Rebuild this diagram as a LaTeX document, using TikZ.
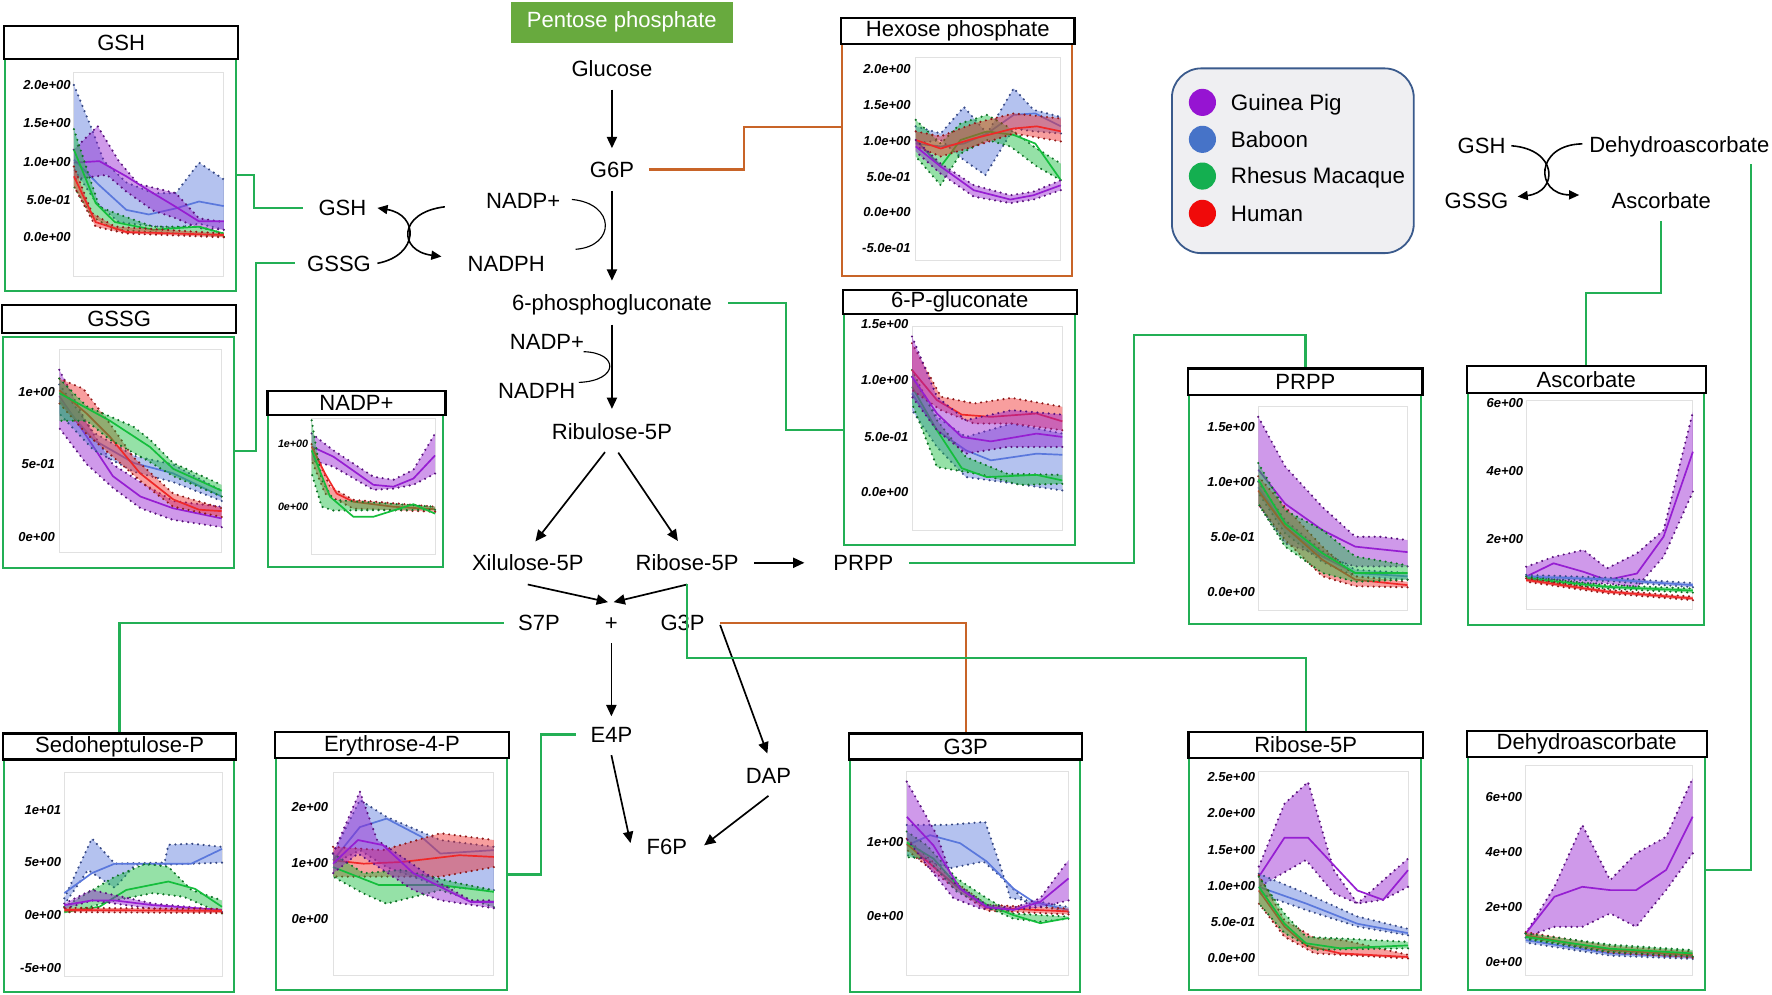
\documentclass[tikz,border=0pt]{standalone}
\usepackage{fontspec}
\setmainfont{Liberation Sans}
\usetikzlibrary{arrows.meta,calc}
\definecolor{cgp}{RGB}{150,30,210}
\definecolor{cbb}{RGB}{90,120,220}
\definecolor{crm}{RGB}{20,190,60}
\definecolor{chu}{RGB}{240,40,40}
\definecolor{lgreen}{RGB}{35,175,85}
\definecolor{lorange}{RGB}{200,100,40}
\definecolor{pbox}{RGB}{104,170,62}
\definecolor{legfill}{RGB}{239,239,242}
\definecolor{legline}{RGB}{58,90,140}
\definecolor{pgrid}{RGB}{225,225,225}
\definecolor{lgp}{RGB}{150,20,210}
\definecolor{lbb}{RGB}{70,115,200}
\definecolor{lrm}{RGB}{20,175,80}
\definecolor{lhu}{RGB}{240,10,10}
\newcommand\fA{\fontsize{19.5pt}{22pt}\selectfont}
\newcommand\fL{\fontsize{19.8pt}{22pt}\selectfont}
\newcommand\fT{\fontsize{11.5pt}{13pt}\selectfont\bfseries\itshape}
\newcommand\fS{\fontsize{9.5pt}{11pt}\selectfont\bfseries\itshape}
\tikzset{
 lbl/.style={font=\fA, inner sep=1pt, text height=16pt, text depth=2pt},
 arr/.style={line width=1.5pt, -{Triangle[length=10pt,width=9pt]}},
 carr/.style={line width=1.4pt, -{Triangle[length=9pt,width=8pt]}},
 cthin/.style={line width=1pt},
 gline/.style={draw=lgreen, line width=2pt},
 oline/.style={draw=lorange, line width=2pt},
 cbox/.style={draw=#1, line width=1.8pt, fill=white, inner sep=0pt},
 tbox/.style={draw=black, line width=2pt, fill=white, inner sep=0pt, font=\fA},
 parea/.style={draw=pgrid, line width=0.8pt, fill=white},
 tick/.style={anchor=east, inner sep=0pt, font=\fT},
 stick/.style={anchor=east, inner sep=0pt, font=\fS},
 bdots/.style={draw=#1!60!black, line width=2.1pt, line cap=round, dash pattern=on 0pt off 5pt},
 legdot/.style={circle, fill=#1, minimum size=24pt, inner sep=0pt},
 legtxt/.style={anchor=west, font=\fL, inner sep=1pt, text height=16pt, text depth=2pt},
}
\newcommand\bnd[4]{%
 \fill[#1,fill opacity=0.45] plot coordinates {#2} -- plot coordinates {#3} -- cycle;
 \draw[bdots=#1] plot coordinates {#2};
 \draw[bdots=#1] plot coordinates {#3};
 \draw[#1,line width=1.5pt,line join=round] plot coordinates {#4};}
% #1 name #2 colour #3 x1 #4 y1 #5 x2 #6 y2 #7 title top #8 title bottom #9 title
\newcommand\pnl[9]{%
 \node[cbox=#2, minimum width={(#5)-(#3)}, minimum height={(#6)-(#4)}] (#1C) at ({((#3)+(#5))/2},{((#4)+(#6))/2}) {};
 \node[tbox, minimum width={(#5)-(#3)+2.5}, minimum height={(#8)-(#7)}] (#1T) at ({((#3)+(#5))/2+0.5},{((#7)+(#8))/2}) {#9};
}
\begin{document}
\begin{tikzpicture}[x=1pt,y=-1pt]
\useasboundingbox (0,0) rectangle (1568,879.6);
\fill[white] (0,0) rectangle (1568,879.6);

% ---------------- panels ----------------
\pnl{gsh}{lgreen}{4.4}{52.5}{209}{257.5}{23}{52.5}{GSH}
\pnl{gssg}{lgreen}{2.4}{298}{207.4}{502.4}{270}{294.4}{GSSG}
\pnl{nadp}{lgreen}{237.5}{367.3}{392.4}{502}{345.7}{367.3}{NADP+}
\pnl{hex}{lorange}{745}{39.2}{949}{244.3}{16.2}{39.2}{Hexose phosphate}
\pnl{pgl}{lgreen}{746.5}{277.9}{951}{482.3}{256.7}{277.9}{6-P-gluconate}
\pnl{prpp}{lgreen}{1052.2}{349.6}{1257}{552.5}{326}{349.6}{PRPP}
\pnl{asc}{lgreen}{1298.6}{347.5}{1507.5}{553}{323.9}{347.5}{Ascorbate}
\pnl{sed}{lgreen}{3.4}{672}{207.3}{877.6}{649}{672}{Sedoheptulose-P}
\pnl{ery}{lgreen}{243.9}{671}{448.8}{876}{648}{671}{Erythrose-4-P}
\pnl{gtp}{lgreen}{752.2}{672}{955.8}{877.6}{649}{672}{G3P}
\pnl{rib}{lgreen}{1052.4}{671}{1257.4}{876}{647.5}{671}{Ribose-5P}
\pnl{dha}{lgreen}{1298.6}{670}{1508.4}{876}{646.6}{670}{Dehydroascorbate}

% plot areas
\draw[parea] (65.4,64.3) rectangle (198,244.3);
\draw[parea] (52.5,309) rectangle (196.2,488.8);
\draw[parea] (275.8,370) rectangle (385,491);
\draw[parea] (810.3,50.7) rectangle (938.7,230.7);
\draw[parea] (807,288.5) rectangle (940,469);
\draw[parea] (1113.4,360) rectangle (1245.5,539.9);
\draw[parea] (1350.5,354) rectangle (1498,539.3);
\draw[parea] (56.9,683.8) rectangle (196.4,863.8);
\draw[parea] (294.7,683.8) rectangle (437,862.9);
\draw[parea] (802.4,683) rectangle (945.5,863.5);
\draw[parea] (1113.9,683) rectangle (1245.9,862.9);
\draw[parea] (1350,677) rectangle (1497.8,862.9);

% ticks
\foreach \t/\yy [count=\i] in {2.0e+00/75.2,1.5e+00/109,1.0e+00/143,5.0e-01/177,0.0e+00/210}
  \node[tick] (ta\i) at (62.7,\yy) {\t};
\foreach \t/\yy [count=\i] in {1e+00/346.6,5e-01/411,0e+00/475.5}
  \node[tick] (tb\i) at (48.7,\yy) {\t};
\foreach \t/\yy [count=\i] in {1e+00/393,0e+00/448.4}
  \node[stick] (tc\i) at (272.9,\yy) {\t};
\foreach \t/\yy [count=\i] in {2.0e+00/61,1.5e+00/93,1.0e+00/124.5,5.0e-01/156.4,0.0e+00/188,-5.0e-01/219.8}
  \node[tick] (td\i) at (806,\yy) {\t};
\foreach \t/\yy [count=\i] in {1.5e+00/287,1.0e+00/336.3,5.0e-01/386.5,0.0e+00/435}
  \node[tick] (te\i) at (804,\yy) {\t};
\foreach \t/\yy [count=\i] in {1.5e+00/377.6,1.0e+00/426.3,5.0e-01/475,0.0e+00/523.6}
  \node[tick] (tf\i) at (1110.5,\yy) {\t};
\foreach \t/\yy [count=\i] in {6e+00/356.4,4e+00/416.5,2e+00/477.3}
  \node[tick] (tg\i) at (1348,\yy) {\t};
\foreach \t/\yy [count=\i] in {1e+01/716.9,5e+00/763.2,0e+00/809.8,-5e+00/856.4}
  \node[tick] (th\i) at (54.2,\yy) {\t};
\foreach \t/\yy [count=\i] in {2e+00/713.9,1e+00/764,0e+00/813.6}
  \node[tick] (ti\i) at (290.6,\yy) {\t};
\foreach \t/\yy [count=\i] in {1e+00/745.5,0e+00/810.4}
  \node[tick] (tj\i) at (799.5,\yy) {\t};
\foreach \t/\yy [count=\i] in {2.5e+00/688,2.0e+00/719.8,1.5e+00/752.3,1.0e+00/784.1,5.0e-01/816.3,0.0e+00/848.1}
  \node[tick] (tk\i) at (1110.7,\yy) {\t};
\foreach \t/\yy [count=\i] in {6e+00/705,4e+00/753.7,2e+00/802.4,0e+00/851.7}
  \node[tick] (tl\i) at (1347,\yy) {\t};

% ---------------- curves ----------------
% GSH
\begin{scope}[shift={(65.4,210)},x=13.26pt,y=67.4pt]
\bnd{cbb}{(0,2.0)(1.2,1.42)(2,1.0)(3.5,0.72)(5.3,0.58)(6.8,0.58)(8.35,0.98)(10,0.76)}{(10,0.1)(8.35,0.18)(6.8,0.12)(5,0.15)(3,0.2)(1.5,0.45)(0,0.9)}{(0,1.02)(1.66,0.69)(3.5,0.36)(5,0.3)(6.8,0.38)(8.35,0.47)(10,0.41)}
\bnd{cgp}{(0,1.15)(1.58,1.46)(3.0,1.0)(4.3,0.7)(6.8,0.58)(8.34,0.25)(10,0.2)}{(10,0.1)(8.34,0.12)(6.8,0.25)(5.3,0.35)(3.5,0.6)(2.2,0.82)(0,0.76)}{(0,0.98)(1.7,1.0)(3.5,0.8)(5.28,0.58)(6.8,0.4)(8.34,0.21)(10,0.21)}
\bnd{crm}{(0,1.42)(0.94,0.85)(1.7,0.4)(2.73,0.32)(5.28,0.14)(8.34,0.14)(10,0.05)}{(10,0.01)(2.73,0.1)(1.2,0.27)(0,0.67)}{(0,1.15)(1.45,0.45)(2.73,0.2)(5.28,0.1)(8.34,0.14)(10,0.05)}
\bnd{chu}{(0,0.93)(1.2,0.32)(2.73,0.14)(10,0.05)}{(10,0)(3.5,0.05)(1.45,0.14)(0,0.67)}{(0,0.8)(1.45,0.2)(3.5,0.07)(10,0.03)}
\end{scope}
% GSSG
\begin{scope}[shift={(52.5,475.5)},x=14.37pt,y=128.9pt]
\bnd{cgp}{(0,1.15)(1.7,0.78)(3.3,0.5)(5,0.38)(7,0.25)(10,0.21)}{(10,0.07)(7,0.12)(5,0.2)(3.3,0.34)(1.7,0.5)(0,0.75)}{(0,0.97)(1.7,0.69)(3.3,0.42)(5,0.28)(7,0.2)(10,0.13)}
\bnd{cbb}{(0,1.05)(2.1,0.72)(4.6,0.56)(7,0.5)(10,0.32)}{(10,0.25)(7,0.38)(4.6,0.45)(2.1,0.6)(0,0.85)}{(0,0.94)(2.1,0.67)(4.6,0.51)(7,0.44)(10,0.28)}
\bnd{chu}{(0,1.09)(1.48,1.02)(3.12,0.78)(4.56,0.55)(7.02,0.3)(10,0.2)}{(10,0.14)(7.02,0.21)(5.38,0.35)(3.33,0.55)(1.68,0.71)(0,0.92)}{(0,1.01)(1.68,0.85)(3.12,0.69)(4.97,0.44)(7.02,0.26)(8.6,0.19)(10,0.18)}
\bnd{crm}{(0,1.09)(1.68,0.9)(4.56,0.76)(5.59,0.67)(7.02,0.51)(10,0.36)}{(10,0.28)(7.02,0.42)(5.38,0.53)(3.12,0.67)(1.68,0.8)(0,0.8)}{(0,0.99)(3.12,0.8)(5.59,0.62)(7.02,0.47)(10,0.32)}
\end{scope}
% NADP+
\begin{scope}[shift={(275.8,448.4)},x=10.92pt,y=55.4pt]
\bnd{cgp}{(0,1.17)(1.76,0.9)(5,0.48)(6.62,0.43)(8.24,0.59)(10,1.17)}{(10,0.53)(8.24,0.35)(6.62,0.29)(5,0.27)(1.76,0.64)(0,0.74)}{(0,0.96)(1.76,0.8)(5,0.35)(6.62,0.32)(8.24,0.45)(10,0.82)}
\bnd{chu}{(0,1.0)(1.49,0.32)(3.38,0.11)(10,0.0)}{(10,-0.08)(3.38,-0.03)(1.08,0.21)(0,0.74)}{(0,0.96)(1.08,0.53)(2.03,0.21)(3.38,0.08)(6.62,0)(10,-0.04)}
\bnd{crm}{(0,1.38)(0.81,0.43)(1.76,0.11)(10,0.0)}{(10,-0.05)(1.76,-0.06)(0.81,0)(0,0.53)}{(0,0.9)(1.49,0.16)(3.38,-0.16)(5,-0.16)(8.24,0.04)(10,-0.11)}
\end{scope}
% Hexose phosphate
\begin{scope}[shift={(810.3,188)},x=12.84pt,y=63.5pt]
\bnd{cbb}{(0,1.2)(1.72,1.1)(3.32,1.47)(4.92,1.1)(6.75,1.73)(8.12,1.43)(10,1.33)}{(10,1.1)(8.12,1.13)(6.75,1.17)(4.8,0.52)(3.32,0.73)(1.72,1.01)(0,0.96)}{(0,0.96)(1.72,0.92)(3.32,0.96)(4.92,1.1)(6.75,1.36)(8.24,1.38)(10,1.2)}
\bnd{crm}{(0,1.29)(1.72,0.96)(3.09,1.24)(4.92,1.36)(6.29,1.2)(8.12,0.92)(10,0.68)}{(10,0.45)(8.35,0.64)(6.52,0.92)(4.92,1.01)(3.09,0.82)(1.72,0.38)(0,0.78)}{(0,1.01)(1.72,0.64)(3.09,1.01)(4.92,1.13)(6.75,1.08)(8.24,0.96)(10,0.45)}
\bnd{chu}{(0,1.13)(1.72,1.06)(4.0,1.24)(6.75,1.38)(10,1.31)}{(10,0.99)(6.75,1.1)(4.0,0.92)(1.72,0.78)(0,0.92)}{(0,1.01)(1.72,0.89)(4.0,1.03)(6.75,1.17)(8.35,1.2)(10,1.13)}
\bnd{cgp}{(0,1.01)(1.72,0.68)(4.0,0.38)(6.52,0.24)(8.12,0.29)(10,0.45)}{(10,0.31)(8.12,0.18)(6.52,0.13)(4.0,0.22)(1.72,0.54)(0,0.85)}{(0,0.92)(1.72,0.64)(4.0,0.31)(6.52,0.18)(8.12,0.24)(10,0.38)}
\end{scope}
% 6-P-gluconate
\begin{scope}[shift={(807,435)},x=13.3pt,y=98.7pt]
\bnd{cbb}{(0,1.03)(1.66,0.67)(3.59,0.49)(6.63,0.61)(10,0.52)}{(10,0.01)(6.9,0.07)(3.59,0.13)(1.66,0.4)(0,0.73)}{(0,0.88)(1.66,0.55)(3.59,0.37)(5.25,0.28)(8.29,0.34)(10,0.33)}
\bnd{crm}{(0,1.09)(1.66,0.64)(3.59,0.31)(6.35,0.16)(10,0.15)}{(10,0.07)(7.18,0.06)(4.7,0.15)(1.66,0.22)(0,0.79)}{(0,0.94)(1.66,0.55)(3.31,0.21)(4.97,0.13)(8.29,0.15)(10,0.1)}
\bnd{chu}{(0,1.33)(1.93,0.85)(4.14,0.79)(6.63,0.84)(10,0.76)}{(10,0.55)(6.63,0.61)(4.14,0.61)(1.93,0.73)(0,0.91)}{(0,1.09)(1.66,0.82)(3.31,0.69)(5.25,0.67)(8.29,0.7)(10,0.63)}
\bnd{cgp}{(0,1.39)(1.66,0.85)(3.59,0.64)(6.63,0.73)(10,0.69)}{(10,0.4)(6.35,0.4)(3.59,0.34)(1.66,0.55)(0,0.85)}{(0,1.03)(1.66,0.7)(3.31,0.49)(5.25,0.45)(8.29,0.52)(10,0.49)}
\end{scope}
% PRPP
\begin{scope}[shift={(1113.4,523.6)},x=13.21pt,y=97.3pt]
\bnd{cgp}{(0,1.59)(1.8,1.14)(4.3,0.77)(6.5,0.5)(8.2,0.5)(10,0.47)}{(10,0.23)(6.5,0.23)(4.3,0.32)(1.8,0.44)(0,0.8)}{(0,1.11)(1.8,0.8)(4.3,0.56)(6.5,0.41)(10,0.36)}
\bnd{cbb}{(0,1.0)(1.8,0.65)(4.3,0.37)(6.5,0.2)(10,0.17)}{(10,0.11)(6.5,0.14)(4.3,0.27)(1.8,0.53)(0,0.9)}{(0,0.95)(1.8,0.59)(4.3,0.32)(6.5,0.17)(10,0.14)}
\bnd{chu}{(0,1.05)(1.8,0.77)(4.3,0.41)(6.5,0.14)(10,0.09)}{(10,0.04)(6.5,0.05)(4.3,0.14)(1.8,0.47)(0,0.8)}{(0,0.92)(1.8,0.59)(4.3,0.29)(6.5,0.11)(10,0.06)}
\bnd{crm}{(0,1.17)(1.8,0.74)(4.3,0.56)(6.5,0.32)(10,0.24)}{(10,0.11)(6.5,0.09)(4.3,0.17)(1.8,0.41)(0,0.8)}{(0,1.02)(1.8,0.62)(4.3,0.35)(6.5,0.17)(10,0.17)}
\end{scope}
% Ascorbate
\begin{scope}[shift={(1350.5,537.7)},x=14.75pt,y=30.2pt]
\bnd{cgp}{(0,1.2)(1.64,1.49)(3.44,1.69)(4.84,1.15)(6.64,1.59)(8.24,2.27)(10,5.74)}{(10,3.4)(8.24,1.49)(6.64,0.61)(4.84,0.71)(3.44,0.71)(1.64,0.81)(0,0.81)}{(0,0.91)(1.64,1.3)(3.44,1.05)(4.84,0.81)(6.64,1.0)(8.24,2.08)(10,4.57)}
\bnd{cbb}{(0,0.96)(4.84,0.88)(10,0.72)}{(10,0.6)(4.84,0.78)(0,0.86)}{(0,0.91)(4.84,0.83)(10,0.66)}
\bnd{crm}{(0,0.91)(4.84,0.66)(10,0.56)}{(10,0.44)(4.84,0.56)(0,0.81)}{(0,0.86)(4.84,0.61)(10,0.5)}
\bnd{chu}{(0,0.86)(4.84,0.52)(10,0.32)}{(10,0.22)(4.84,0.42)(0,0.76)}{(0,0.81)(4.84,0.47)(10,0.27)}
\end{scope}
% Sedoheptulose-P
\begin{scope}[shift={(56.9,809.8)},x=13.95pt,y=9.3pt]
\bnd{cbb}{(0,1.6)(1.75,7.3)(3.2,4.9)(6.36,5.0)(6.6,6.7)(8.06,6.8)(10,6.5)}{(10,5.0)(6.36,4.8)(4.5,4.8)(3.2,2.6)(1.5,4.3)(0,1.0)}{(0,2.1)(1.75,4.0)(3.2,4.9)(5.63,4.9)(8.06,4.9)(10,6.3)}
\bnd{crm}{(0,0.8)(3.2,3.65)(5.15,4.9)(6.6,4.6)(8.06,2.4)(10,1.4)}{(10,0.16)(7.57,1.75)(5.63,2.1)(3.2,1.4)(0,0.16)}{(0,0.3)(2.23,0.8)(3.93,2.4)(6.6,3.2)(8.3,2.5)(10,0.8)}
\bnd{cgp}{(0,1.1)(1.75,2.4)(3.2,1.9)(5.63,1.1)(10,0.5)}{(10,0.3)(5.63,0.6)(1.75,1.4)(0,0.6)}{(0,0.95)(1.75,1.4)(3.2,1.4)(5.63,0.95)(10,0.5)}
\bnd{chu}{(0,0.7)(10,0.6)}{(10,0.2)(0,0.3)}{(0,0.5)(10,0.4)}
\end{scope}
% Erythrose-4-P
\begin{scope}[shift={(294.7,813.6)},x=14.23pt,y=49.85pt]
\bnd{cbb}{(0,1.17)(1.67,2.12)(3.33,1.82)(6.67,1.41)(10,1.29)}{(10,0.52)(6.67,0.58)(3.33,0.93)(1.67,1.23)(0,0.99)}{(0,1.05)(1.67,1.64)(3.33,1.79)(5.48,1.47)(6.67,1.17)(10,1.23)}
\bnd{chu}{(0,1.29)(3.1,1.23)(6.67,1.53)(10,1.41)}{(10,0.93)(6.67,0.76)(3.1,0.76)(0,0.76)}{(0,1.05)(1.9,0.99)(4.29,1.02)(7.86,1.14)(10,1.11)}
\bnd{crm}{(0,1.17)(1.9,0.82)(4.29,0.88)(7.86,0.64)(10,0.52)}{(10,0.22)(6.67,0.52)(3.33,0.28)(1.9,0.46)(0,0.76)}{(0,0.93)(2.86,0.61)(6.67,0.61)(10,0.49)}
\bnd{cgp}{(0,1.17)(1.67,2.27)(2.74,1.41)(4.29,1.11)(6.67,0.64)(8.57,0.34)(10,0.34)}{(10,0.2)(6.67,0.34)(5,0.52)(3.1,0.88)(1.55,1.17)(0,0.82)}{(0,0.99)(1.55,1.41)(3.1,1.32)(5,0.82)(6.67,0.58)(8.57,0.31)(10,0.31)}
\end{scope}
% G3P
\begin{scope}[shift={(802.4,810.4)},x=14.31pt,y=64.9pt]
\bnd{cbb}{(0,1.24)(2.47,1.24)(4.85,1.28)(5.77,0.69)(6.4,0.24)(8.25,0.19)(10,0.12)}{(10,0.05)(7.42,0.17)(6.19,0.46)(4.74,0.74)(2.68,0.65)(0,0.83)}{(0,0.96)(1.44,1.1)(3.3,0.99)(4.95,0.74)(6.6,0.37)(7.84,0.19)(10,0.08)}
\bnd{chu}{(0,1.05)(3.09,0.45)(4.95,0.15)(10,0.1)}{(10,0.02)(4.95,0.07)(3.09,0.35)(0,0.9)}{(0,0.98)(3.09,0.4)(4.95,0.11)(10,0.06)}
\bnd{crm}{(0,1.15)(1.24,0.96)(3.09,0.51)(4.95,0.24)(6.6,0.03)(10,-0.01)}{(10,-0.04)(8.25,-0.08)(6.6,-0.04)(4.95,0.12)(3.09,0.33)(1.24,0.78)(0,0.8)}{(0,1.0)(1.65,0.78)(3.3,0.37)(4.95,0.15)(6.6,0.01)(8.25,-0.1)(10,-0.03)}
\bnd{cgp}{(0,1.83)(1.86,1.1)(2.89,0.46)(4.95,0.15)(6.6,0.11)(8.25,0.24)(10,0.76)}{(10,0.21)(8.25,0.12)(6.6,0.08)(4.54,0.1)(2.89,0.24)(1.24,0.69)(0,1.05)}{(0,1.35)(1.65,0.96)(3.3,0.37)(4.95,0.12)(6.6,0.08)(8.25,0.19)(10,0.51)}
\end{scope}
% Ribose-5P
\begin{scope}[shift={(1113.9,848.1)},x=13.2pt,y=64pt]
\bnd{cgp}{(0,1.27)(1.72,2.14)(3.3,2.44)(5.03,1.22)(6.61,0.76)(8.33,1.08)(10,1.38)}{(10,0.99)(8.33,0.81)(6.61,0.76)(5.03,0.9)(3.16,1.36)(0,0.99)}{(0,1.13)(1.72,1.67)(3.3,1.67)(6.61,0.94)(8.33,0.81)(10,1.22)}
\bnd{cbb}{(0,1.17)(3.16,0.9)(6.61,0.58)(10,0.41)}{(10,0.32)(6.61,0.44)(3.16,0.67)(0,0.9)}{(0,0.99)(3.16,0.76)(6.61,0.48)(10,0.35)}
\bnd{chu}{(0,1.15)(1.72,0.53)(3.74,0.28)(5.75,0.25)(10,0.05)}{(10,0)(3.74,0.07)(1.72,0.3)(0,0.76)}{(0,0.94)(1.72,0.44)(3.16,0.18)(5.46,0.07)(10,0.02)}
\bnd{crm}{(0,1.13)(1.72,0.62)(3.16,0.3)(10,0.23)}{(10,0.14)(3.74,0.12)(1.72,0.35)(0,0.76)}{(0,0.99)(1.72,0.48)(3.16,0.21)(5.46,0.14)(10,0.18)}
\end{scope}
% Dehydroascorbate
\begin{scope}[shift={(1350,851.7)},x=14.78pt,y=24.45pt]
\bnd{cgp}{(0,1.05)(1.72,2.74)(3.39,4.98)(5.06,2.98)(6.61,3.95)(8.41,4.55)(10,6.67)}{(10,3.95)(8.41,2.62)(6.61,1.29)(5.06,1.78)(3.39,1.29)(1.72,1.29)(0,0.93)}{(0,1.05)(1.72,2.38)(3.39,2.74)(5.06,2.62)(6.61,2.62)(8.41,3.35)(10,5.28)}
\bnd{cbb}{(0,0.9)(5.06,0.42)(10,0.28)}{(10,0.13)(5.06,0.25)(0,0.72)}{(0,0.81)(5.06,0.33)(10,0.2)}
\bnd{chu}{(0,1.1)(5.06,0.6)(10,0.4)}{(10,0.17)(5.06,0.35)(0,0.9)}{(0,0.99)(5.06,0.45)(10,0.27)}
\bnd{crm}{(0,1.05)(5.06,0.65)(10,0.45)}{(10,0.22)(5.06,0.38)(0,0.85)}{(0,0.93)(5.06,0.5)(10,0.33)}
\end{scope}

% ---------------- title (green box) ----------------
\node[fill=pbox, text=white, font=\fA, minimum width=196.4pt, minimum height=36.3pt, inner sep=0pt] (ppbox) at (550.2,19.65) {Pentose phosphate};

% ---------------- legend ----------------
\node[draw=legline, line width=1.6pt, fill=legfill, rounded corners=26pt, minimum width=214pt, minimum height=163.5pt, inner sep=0pt] (leg) at (1144,142.25) {};
\node[legdot=lgp] (ld1) at (1064,90.6) {};
\node[legdot=lbb] (ld2) at (1064,123.3) {};
\node[legdot=lrm] (ld3) at (1064,155.8) {};
\node[legdot=lhu] (ld4) at (1064,188.8) {};
\node[legtxt] (lt1) at (1088,90.6) {Guinea Pig};
\node[legtxt] (lt2) at (1088,123.3) {Baboon};
\node[legtxt] (lt3) at (1088,155.8) {Rhesus Macaque};
\node[legtxt] (lt4) at (1088,188.8) {Human};

% ---------------- pathway labels ----------------
\node[lbl] (glu) at (541.5,61) {Glucose};
\node[lbl] (g6pL) at (541.5,150) {G6P};
\node[lbl] (nadp1) at (463,177.5) {NADP+};
\node[lbl] (nadph1) at (448,233) {NADPH};
\node[lbl] (pg6L) at (541.5,268) {6-phosphogluconate};
\node[lbl] (nadp2) at (484,302) {NADP+};
\node[lbl] (nadph2) at (475,346) {NADPH};
\node[lbl] (ribu) at (541.5,382) {Ribulose-5P};
\node[lbl] (xil) at (467,498) {Xilulose-5P};
\node[lbl] (ribL) at (608,498) {Ribose-5P};
\node[lbl] (prppL) at (764,498) {PRPP};
\node[lbl] (s7pL) at (477,551) {S7P};
\node[lbl] (plus) at (541,551) {+};
\node[lbl] (g3pL) at (604,551) {G3P};
\node[lbl] (e4pL) at (541,650) {E4P};
\node[lbl] (dap) at (680,686) {DAP};
\node[lbl] (f6p) at (590,749) {F6P};
\node[lbl] (gshL) at (303,184) {GSH};
\node[lbl] (gssgL) at (300,233) {GSSG};
\node[lbl] (gshR) at (1311,129) {GSH};
\node[lbl] (gssgR) at (1306.5,177.6) {GSSG};
\node[lbl] (dhaL) at (1486,128.3) {Dehydroascorbate};
\node[lbl] (ascL) at (1470,177.6) {Ascorbate};

% ---------------- pathway arrows ----------------
\draw[arr, shorten <=8pt, shorten >=8.7pt] (glu.south) -- (g6pL.north);
\draw[arr, shorten <=8.7pt, shorten >=9.5pt] (g6pL.south) -- (pg6L.north);
\draw[arr, shorten <=9pt, shorten >=10pt] (pg6L.south) -- (ribu.north);
\draw[arr, shorten <=10pt, shorten >=11pt] (ribu.south) -- (xil.north);
\draw[arr, shorten <=10pt, shorten >=11pt] (ribu.south) -- ([xshift=-2pt]ribL.north);
\draw[arr, shorten <=12.5pt, shorten >=24.5pt] (ribL.east) -- (prppL.west);
\draw[arr] ([yshift=-9pt]xil.south) -- ([shift={(-3pt,8pt)}]plus.north);
\draw[arr] ([yshift=-9pt]ribL.south) -- ([shift={(2pt,8pt)}]plus.north);
\draw[arr, shorten <=8pt, shorten >=6pt] (plus.south) -- (e4pL.north);
\draw[arr] ([shift={(12.5pt,-2pt)}]g3pL.east) -- ([shift={(-1pt,9pt)}]dap.north);
\draw[arr] ([yshift=-8pt]e4pL.south) -- ([shift={(-13pt,3pt)}]f6p.west);
\draw[arr] ([yshift=-8pt]dap.south) -- ([shift={(14pt,1pt)}]f6p.east);

% cofactor curves
\draw[carr] ([xshift=4.6pt]gssgL.east) .. controls (371,226) and (371,190) .. ([xshift=8.6pt]gshL.east);
\draw[carr] ([shift={(-35.4pt,-5.5pt)}]nadp1.west) .. controls (352,188) and (352,222) .. ([shift={(-22pt,6pt)}]nadph1.west);
\draw[cthin] ([shift={(9pt,1pt)}]nadp1.east) .. controls (545,180) and (545,218) .. ([shift={(26pt,12.4pt)}]nadph1.east);
\draw[cthin] ([shift={(-1.6pt,-9.2pt)}]nadp2.east) .. controls (548,312) and (548,337) .. ([shift={(1.8pt,7.6pt)}]nadph2.east);
\draw[carr] ([xshift=4pt]gshR.east) .. controls (1379,132) and (1379,170) .. ([shift={(7pt,3.6pt)}]gssgR.east);
\draw[carr] ([shift={(-5pt,1pt)}]dhaL.west) .. controls (1358,128) and (1358,172) .. ([shift={(-27.5pt,5pt)}]ascL.west);

% ---------------- connectors ----------------
\coordinate (b1) at (225,155);
\draw[gline] ([xshift=-13pt]gshL.west) -| (b1) -- (gshC.east |- b1);
\coordinate (b2) at (226.3,399.2);
\draw[gline] ([xshift=-10pt]gssgL.west) -| (b2) -- (gssgC.east |- b2);
\coordinate (b3) at (658.2,112.1);
\draw[oline] ([xshift=12pt]g6pL.east) -| (b3) -- (hexC.west |- b3);
\coordinate (b4) at (695.6,380.6);
\draw[gline] ([xshift=13.5pt]pg6L.east) -| (b4) -- (pglC.west |- b4);
\coordinate (b5) at (1003.3,296.5);
\draw[gline] ([xshift=12.5pt]prppL.east) -| (b5) -| (prppT.north);
\coordinate (b6) at (1470,259);
\draw[gline] ([yshift=-8pt]ascL.south) -- (b6) -| (ascT.north);
\coordinate (b7) at (1549.6,770);
\draw[gline] ([shift={(63.6pt,-6.7pt)}]dhaL.south) -- (b7) -- (dhaC.east |- b7);
\draw[gline] ([xshift=-11.6pt]s7pL.west) -| (sedT.north);
\coordinate (b9) at (478.6,773.8);
\draw[gline] ([xshift=-12pt]e4pL.west) -| (b9) -- (eryC.east |- b9);
\draw[oline] ([xshift=12.5pt]g3pL.east) -| (gtpT.north);
\coordinate (b11) at (608,582);
\draw[gline] ([yshift=-9pt]ribL.south) -- (b11) -| (ribT.north);
\end{tikzpicture}
\end{document}
